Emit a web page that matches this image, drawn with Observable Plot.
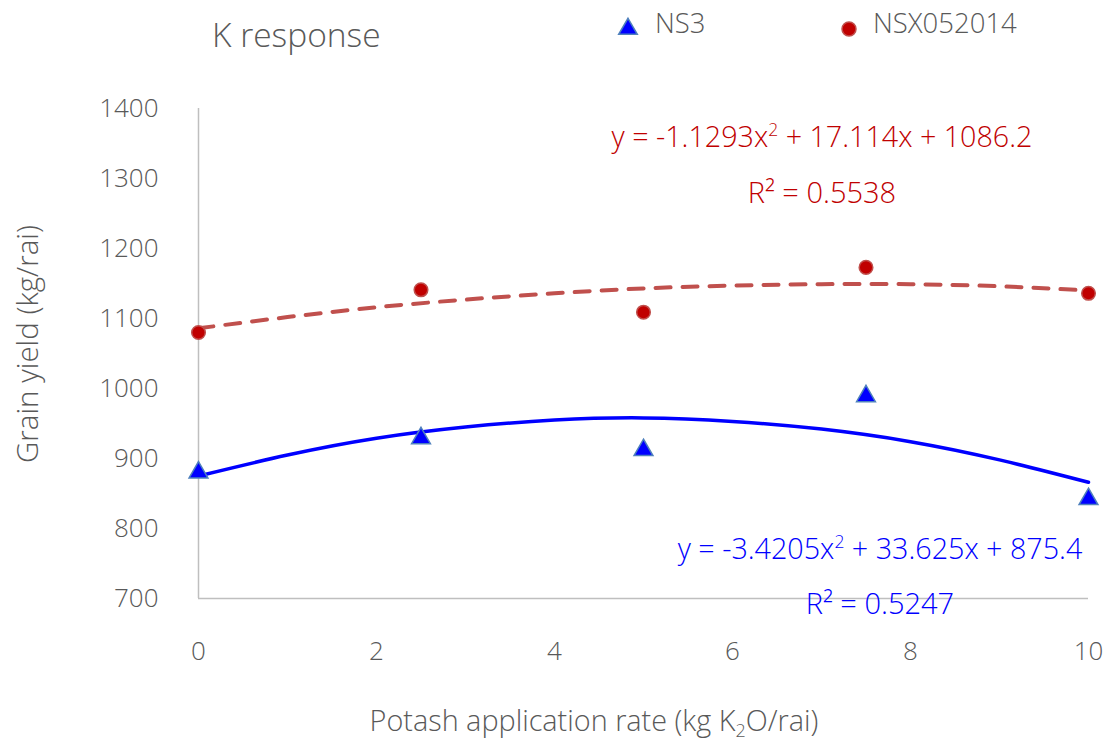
<!DOCTYPE html>
<html>
<head>
<meta charset="utf-8">
<script src="https://cdn.jsdelivr.net/npm/d3@7"></script>
<script src="https://cdn.jsdelivr.net/npm/@observablehq/plot@0.6"></script>
<style>
  body { margin: 0; background: #fff; }
  #chart { position: relative; width: 1113px; height: 740px; }
  #chart text { font-weight: 300; }
</style>
</head>
<body>
<div id="chart"></div>
<script>
// ---- data ----
const rates = [0, 2.5, 5, 7.5, 10];
const ns3Yield = [880, 929, 912, 989, 842];
const nsxYield = [1080, 1141, 1109, 1173, 1136];

// polynomial trend lines
const trendRates = [0, 1, 2, 3, 4, 5, 6, 7, 8, 9, 10];
const ns3Trend = [875, 905, 929, 945, 955, 958, 953, 942, 924, 898, 866];
const nsxTrend = [1086, 1102, 1116, 1127, 1136, 1143, 1147, 1149, 1149, 1146, 1140];

const xTicks = [0, 2, 4, 6, 8, 10];
const yTicks = [700, 800, 900, 1000, 1100, 1200, 1300, 1400];
const seriesNames = ["NS3", "NSX052014"];

const titleText = "K response";
const yTitle = "Grain yield (kg/rai)";
const nsxEquation = ["y = -1.1293x", "2", " + 17.114x + 1086.2"];
const nsxR2 = "R² = 0.5538";
const ns3Equation = ["y = -3.4205x", "2", " + 33.625x + 875.4"];
const ns3R2 = "R² = 0.5247";

// ---- tables ----
const ns3 = rates.map((x, i) => ({x, y: ns3Yield[i]}));
const nsx = rates.map((x, i) => ({x, y: nsxYield[i]}));
const ns3T = trendRates.map((x, i) => ({x, y: ns3Trend[i]}));
const nsxT = trendRates.map((x, i) => ({x, y: nsxTrend[i]}));

const BLUE = "#0000FF", BLUE_EDGE = "#4F81BD";
const RED = "#C00000", RED_EDGE = "#C0504D";
const GRAY = "#595959";

const plot = Plot.plot({
  width: 1113,
  height: 740,
  marginLeft: 198,
  marginRight: 25,
  marginTop: 108,
  marginBottom: 142,
  style: {fontFamily: "'Open Sans', sans-serif", fontSize: "26px", color: GRAY, background: "#fff", overflow: "visible"},
  x: {domain: [0, 10]},
  y: {domain: [700, 1400]},
  marks: [
    Plot.axisY({ticks: yTicks, tickFormat: d => String(d), tickSize: 0, tickPadding: 40, label: null, fill: GRAY}),
    Plot.axisX({ticks: xTicks, tickFormat: d => String(d), tickSize: 0, tickPadding: 43, label: null, fill: GRAY}),
    Plot.ruleX([0], {stroke: "#BFBFBF", strokeWidth: 1.5}),
    Plot.ruleY([700], {stroke: "#BFBFBF", strokeWidth: 1.5}),
    Plot.line(nsxT, {x: "x", y: "y", curve: "natural", stroke: RED_EDGE, strokeWidth: 4, strokeDasharray: "15,12"}),
    Plot.line(ns3T, {x: "x", y: "y", curve: "natural", stroke: BLUE, strokeWidth: 3.5}),
    Plot.dot(ns3, {x: "x", y: "y", symbol: "triangle", r: 7, fill: BLUE, stroke: BLUE_EDGE, strokeWidth: 1.5}),
    Plot.dot(nsx, {x: "x", y: "y", symbol: "circle", r: 6.8, fill: RED, stroke: RED_EDGE, strokeWidth: 1.5})
  ]
});

document.getElementById("chart").appendChild(plot);

// ---- titles, legend and annotations as real text ----
const svg = d3.select(plot);
const font = "'Open Sans', sans-serif";

function label(x, y, str, size, color, anchor) {
  return svg.append("text").attr("x", x).attr("y", y)
    .attr("text-anchor", anchor || "start")
    .attr("font-family", font).attr("font-size", size).attr("fill", color).text(str);
}

label(212, 47, titleText, 33.5, GRAY);

// legend
svg.append("path").attr("d", d3.symbol(d3.symbolTriangle, 150)())
  .attr("transform", "translate(628,29)").attr("fill", BLUE).attr("stroke", BLUE_EDGE).attr("stroke-width", 1.5);
label(655, 33, seriesNames[0], 27.5, GRAY);
svg.append("circle").attr("cx", 849).attr("cy", 29).attr("r", 7)
  .attr("fill", RED).attr("stroke", RED_EDGE).attr("stroke-width", 1.5);
label(873, 33, seriesNames[1], 27.5, GRAY);

// axis titles
svg.append("text").attr("transform", "translate(38,463) rotate(-90)")
  .attr("text-anchor", "start")
  .attr("font-family", font).attr("font-size", 29.5).attr("fill", GRAY).text(yTitle);
const xt = svg.append("text").attr("x", 594).attr("y", 731).attr("text-anchor", "middle")
  .attr("font-family", font).attr("font-size", 28.8).attr("fill", GRAY);
xt.append("tspan").text("Potash application rate (kg K");
xt.append("tspan").attr("font-size", 18).attr("dy", 6).text("2");
xt.append("tspan").attr("dy", -6).text("O/rai)");

// equations
function equation(parts, cx, y, color) {
  const t = svg.append("text").attr("x", cx).attr("y", y).attr("text-anchor", "middle")
    .attr("font-family", font).attr("font-size", 28.7).attr("fill", color);
  t.append("tspan").text(parts[0]);
  t.append("tspan").attr("font-size", 17.5).attr("dy", -11).text(parts[1]);
  t.append("tspan").attr("dy", 11).text(parts[2]);
}
equation(nsxEquation, 822, 147, RED);
label(822, 203, nsxR2, 29, RED, "middle");
equation(ns3Equation, 880, 559, BLUE);
label(880, 614, ns3R2, 29, BLUE, "middle");
</script>
</body>
</html>
